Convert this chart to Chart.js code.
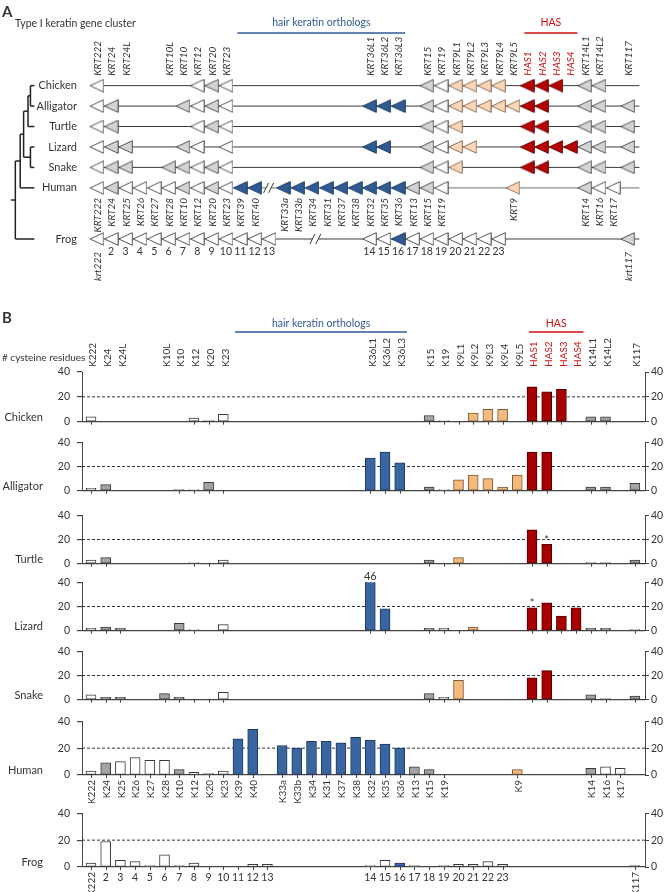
<!DOCTYPE html>
<html>
<head>
<meta charset="utf-8">
<title>Type I keratin gene cluster</title>
<script src="https://cdn.jsdelivr.net/npm/chart.js@4.4.1/dist/chart.umd.min.js"></script>
<style>
  body { margin: 0; background: #fff; }
  #page { position: relative; width: 664px; height: 892px; overflow: hidden; background: #fff; }
  #page canvas { position: absolute; left: 0; }
</style>
</head>
<body>
<div id="page">
  <canvas id="panelA" width="664" height="300" style="top:0"></canvas>
</div>
<script>
const N = null;

// --------------------
// Gene slots (38 positions along the cluster, shared by A and B)
// --------------------
const topGenes = ['K222', 'K24', 'K24L', '', '', 'K10L', 'K10', 'K12', 'K20', 'K23',
  '', '', '', '', '', '', '', '', '', 'K36L1', 'K36L2', 'K36L3', '', 'K15', 'K19',
  'K9L1', 'K9L2', 'K9L3', 'K9L4', 'K9L5', 'HAS1', 'HAS2', 'HAS3', 'HAS4', 'K14L1', 'K14L2', '', 'K117'];
const humanGenes = ['K222', 'K24', 'K25', 'K26', 'K27', 'K28', 'K10', 'K12', 'K20', 'K23', 'K39', 'K40', '',
  'K33a', 'K33b', 'K34', 'K31', 'K37', 'K38', 'K32', 'K35', 'K36', 'K13', 'K15', 'K19',
  '', '', '', '', 'K9', '', '', '', '', 'K14', 'K16', 'K17', ''];
const frogGenes = ['K222', '2', '3', '4', '5', '6', '7', '8', '9', '10', '11', '12', '13',
  '', '', '', '', '', '', '14', '15', '16', '17', '18', '19', '20', '21', '22', '23',
  '', '', '', '', '', '', '', '', 'K117'];

const species = ['Chicken', 'Alligator', 'Turtle', 'Lizard', 'Snake', 'Human', 'Frog'];

// gene kind per slot: w other, g grey, b hair keratin, t KRT9-like, r HAS, . none
const chickenKinds   = 'w......wgw.............gwtttt.rrr.gg..'.split('');
const alligatorKinds = 'wg....gwgw.........bbb.gwtttttrr..gg.g'.split('');
const turtleKinds    = 'wg.....wgw.............gwt....rr..gg.g'.split('');
const lizardKinds    = 'wgg...gw.w.........bb..gwtt...rrrrgg.g'.split('');
const snakeKinds     = 'wgg..ggwgw.............gwt....rr..gg.g'.split('');
const humanKinds     = 'wgwwwwgwgwbb.bbbbbbbbbggw....t....gww.'.split('');
const frogKinds      = 'wwwwwwwwwwwww......wwbwwwwwww........g'.split('');

// # cysteine residues per slot (null = no gene)
const chickenCys   = [4, N, N, N, N, N, N, 3, 1, 6, N, N, N, N, N, N, N, N, N, N, N, N, N,
  5, 1, 0, 7, 10, 10, N, 28, 24, 26, N, 4, 4, N, N];
const alligatorCys = [2, 5, N, N, N, N, 1, 1, 7, 0, N, N, N, N, N, N, N, N, N,
  27, 32, 23, N, 3, 1, 9, 13, 10, 3, 13, 32, 32, N, N, 3, 3, N, 6];
const turtleCys    = [3, 5, N, N, N, N, N, 1, 0, 3, N, N, N, N, N, N, N, N, N, N, N, N, N,
  3, 0, 5, N, N, N, N, 28, 16, N, N, 1, 1, N, 3];
const lizardCys    = [2, 3, 2, N, N, N, 6, 1, N, 5, N, N, N, N, N, N, N, N, N,
  46, 18, N, N, 2, 2, 0, 3, N, N, N, 19, 23, 12, 19, 2, 2, N, 1];
const snakeCys     = [4, 2, 2, N, N, 5, 2, 0, 0, 6, N, N, N, N, N, N, N, N, N, N, N, N, N,
  5, 2, 16, N, N, N, N, 18, 24, N, N, 4, 1, N, 3];
const humanCys     = [3, 9, 10, 13, 11, 11, 4, 2, 1, 3, 27, 34, N, 22, 20, 25, 25, 24, 28, 26, 23, 20,
  6, 4, 0, N, N, N, N, 4, N, N, N, N, 5, 6, 5, N];
const frogCys      = [3, 19, 5, 4, 1, 9, 1, 3, 0, 0, 0, 2, 2, N, N, N, N, N, N,
  1, 5, 3, 1, 0, 1, 2, 2, 4, 2, N, N, N, N, N, N, N, N, 1];

const notes = [
  { species: 3, slot: 19, text: '46' },
  { species: 2, slot: 31, text: '*' },
  { species: 3, slot: 30, text: '*' }
];

const groups = [
  { name: 'hair keratin orthologs', from: 10, to: 21, color: '#2f5b96' },
  { name: 'HAS', from: 30, to: 33, color: '#d01010' }
];

// phylogeny over species indexes
const tree = [[[[[0, 1], 2], [3, 4]], 5], 6];

const kindsBySpecies = [chickenKinds, alligatorKinds, turtleKinds, lizardKinds, snakeKinds, humanKinds, frogKinds];
const cysBySpecies = [chickenCys, alligatorCys, turtleCys, lizardCys, snakeCys, humanCys, frogCys];

// --------------------
// Layout / style
// --------------------
const FONT = "Lato, 'Liberation Sans', sans-serif";
const TEXT = '#333';
const RED = '#d01010';
const SLOT0 = 91, SLOT_W = 14.7;        // px of slot 0 and slot pitch
const pxToSlot = px => (px - SLOT0) / SLOT_W;
const ROW0 = 82, ROW_H = 21.6;
const rowPos = [0, 1, 2, 3, 4, 5, 7.5];  // frog row sits lower
const LINE_END = pxToSlot(647);
const breaks = { 5: [11.8, 12.15], 6: [15.03, 15.44] };
const treeNodePx = [27, 23, 20.5, 16, 12.5, 7.5];
const TREE_ROOT_PX = 3;

const FILL_A = { w: '#ffffff', g: '#d4d4d4', b: '#2f5a92', t: '#fcd6b5', r: '#b80000' };
const EDGE_A = { w: '#555', g: '#555', b: '#1f3d66', t: '#8a7060', r: '#6a0000' };
const FILL_B = { w: '#ffffff', g: '#a3a3a3', b: '#3a65a0', t: '#f4b97b', r: '#a80000' };
const EDGE_B = { w: '#3a3a3a', g: '#3a3a3a', b: '#1d3a60', t: '#7a5a3a', r: '#4a0000' };

Chart.defaults.font.family = FONT;

function triangle(kind) {
  const c = document.createElement('canvas');
  c.width = 15; c.height = 14;
  const g = c.getContext('2d');
  g.beginPath();
  g.moveTo(0.8, 7);
  g.lineTo(14.3, 0.7);
  g.lineTo(14.3, 13.3);
  g.closePath();
  g.fillStyle = FILL_A[kind];
  g.fill();
  g.strokeStyle = EDGE_A[kind];
  g.lineWidth = 1;
  g.stroke();
  return c;
}

function vertText(ctx, text, x, y, align, font, color) {
  ctx.save();
  ctx.translate(x, y);
  ctx.rotate(-Math.PI / 2);
  ctx.font = font;
  ctx.fillStyle = color;
  ctx.textAlign = align;
  ctx.textBaseline = 'middle';
  ctx.fillText(text, 0, 0);
  ctx.restore();
}

function drawGroups(ctx, xScale, lineY, textY) {
  groups.forEach(g => {
    const x1 = xScale.getPixelForValue(g.from - 0.2);
    const x2 = xScale.getPixelForValue(g.to + 0.5);
    ctx.strokeStyle = g.color;
    ctx.lineWidth = 1.5;
    ctx.beginPath();
    ctx.moveTo(x1, lineY);
    ctx.lineTo(x2, lineY);
    ctx.stroke();
    ctx.fillStyle = g.color;
    ctx.font = `10.5px ${FONT}`;
    ctx.textAlign = 'center';
    ctx.textBaseline = 'middle';
    ctx.fillText(g.name, (x1 + x2) / 2, textY);
  });
}

const geneNameA = g => g.startsWith('K') ? 'KRT' + g.slice(1) : g;

// --------------------
// Panel A: gene cluster
// --------------------
function treeSegments(node, segs) {
  if (typeof node === 'number') return { y: rowPos[node], h: 0 };
  const kids = node.map(n => treeSegments(n, segs));
  const h = 1 + Math.max(...kids.map(k => k.h));
  const x = pxToSlot(treeNodePx[h]);
  kids.forEach(k => segs.push([{ x, y: k.y }, { x: pxToSlot(treeNodePx[k.h]), y: k.y }]));
  segs.push([{ x, y: kids[0].y }, { x, y: kids[kids.length - 1].y }]);
  return { y: (kids[0].y + kids[kids.length - 1].y) / 2, h };
}

const treeSegs = [];
const root = treeSegments(tree, treeSegs);
treeSegs.push([{ x: pxToSlot(TREE_ROOT_PX), y: root.y }, { x: pxToSlot(treeNodePx[root.h]), y: root.y }]);

const datasetsA = [];
treeSegs.forEach(seg => datasetsA.push({
  data: seg, showLine: true, pointRadius: 0, borderColor: '#222', borderWidth: 1.5, order: 2
}));

kindsBySpecies.forEach((ks, s) => {
  const first = ks.findIndex(k => k !== '.');
  const br = breaks[s];
  const parts = br ? [[first, br[0]], [br[1], LINE_END]] : [[first, LINE_END]];
  parts.forEach(p => datasetsA.push({
    data: [{ x: p[0], y: rowPos[s] }, { x: p[1], y: rowPos[s] }],
    showLine: true, pointRadius: 0,
    borderColor: s === 5 ? '#8c8c8c' : '#3a3a3a', borderWidth: s === 5 ? 1.3 : 1, order: 2
  }));
});

['w', 'g', 't', 'b', 'r'].forEach(kind => {
  const data = [];
  kindsBySpecies.forEach((ks, s) => ks.forEach((k, i) => {
    if (k === kind) data.push({ x: i, y: rowPos[s] });
  }));
  datasetsA.push({ data, pointStyle: triangle(kind), pointRadius: 7, showLine: false, order: 0 });
});

const panelALabels = {
  id: 'panelALabels',
  afterDatasetsDraw(chart) {
    const { ctx, scales: { x, y } } = chart;
    ctx.save();
    ctx.fillStyle = TEXT;
    ctx.textBaseline = 'middle';
    ctx.textAlign = 'left';
    ctx.font = `bold 15px ${FONT}`;
    ctx.fillText('A', 2, 12);
    ctx.font = `10.5px ${FONT}`;
    ctx.fillText('Type I keratin gene cluster', 15, 24);
    drawGroups(ctx, x, 33, 23);

    ctx.fillStyle = TEXT;
    ctx.font = `11px ${FONT}`;
    ctx.textAlign = 'right';
    ctx.textBaseline = 'middle';
    species.forEach((s, i) => ctx.fillText(s, 77, y.getPixelForValue(rowPos[i])));

    const topY = y.getPixelForValue(rowPos[0]) - 10;
    topGenes.forEach((g, i) => {
      if (!g) return;
      vertText(ctx, geneNameA(g), x.getPixelForValue(i) + 1, topY, 'left',
        `italic 10px ${FONT}`, g.startsWith('HAS') ? RED : TEXT);
    });
    const humanY = y.getPixelForValue(rowPos[5]) + 10;
    humanGenes.forEach((g, i) => {
      if (!g) return;
      vertText(ctx, geneNameA(g), x.getPixelForValue(i) + 1, humanY, 'right', `italic 10px ${FONT}`, TEXT);
    });
    const frogY = y.getPixelForValue(rowPos[6]);
    frogGenes.forEach((g, i) => {
      if (!g) return;
      if (/^\d/.test(g)) {
        ctx.font = `10.5px ${FONT}`;
        ctx.fillStyle = TEXT;
        ctx.textAlign = 'center';
        ctx.textBaseline = 'middle';
        ctx.fillText(g, x.getPixelForValue(i), frogY + 13);
      } else {
        vertText(ctx, 'krt' + g.slice(1), x.getPixelForValue(i) + 1, frogY + 13, 'right', `italic 10px ${FONT}`, TEXT);
      }
    });

    // break marks on the human and frog lines
    ctx.strokeStyle = '#333';
    ctx.lineWidth = 1;
    Object.keys(breaks).forEach(s => {
      const py = y.getPixelForValue(rowPos[s]);
      breaks[s].forEach(b => {
        const px = x.getPixelForValue(b);
        ctx.beginPath();
        ctx.moveTo(px - 2.5, py + 5);
        ctx.lineTo(px + 2.5, py - 5);
        ctx.stroke();
      });
    });
    ctx.restore();
  }
};

const canvasA = document.getElementById('panelA');
new Chart(canvasA, {
  type: 'scatter',
  data: { datasets: datasetsA },
  options: {
    responsive: false,
    animation: false,
    events: [],
    devicePixelRatio: 1,
    layout: { padding: 0 },
    plugins: { legend: { display: false }, tooltip: { enabled: false } },
    scales: {
      x: { type: 'linear', display: false, min: pxToSlot(0), max: pxToSlot(664) },
      y: { type: 'linear', display: false, reverse: true,
           min: -ROW0 / ROW_H, max: (canvasA.height - ROW0) / ROW_H }
    }
  },
  plugins: [panelALabels]
});

// --------------------
// Panel B: cysteine counts
// --------------------
const panelBTop = [372, 441, 514, 581, 650, 720, 812]; // y of the 40 line
const PLOT_H = 55;
const AXIS_L = 82, AXIS_R = 645;

const barExtras = {
  id: 'barExtras',
  beforeDatasetsDraw(chart) {
    const { ctx, chartArea, scales: { y } } = chart;
    const y20 = y.getPixelForValue(20);
    ctx.save();
    ctx.strokeStyle = '#333';
    ctx.lineWidth = 1;
    ctx.setLineDash([3, 2]);
    ctx.beginPath();
    ctx.moveTo(chartArea.left, y20);
    ctx.lineTo(chartArea.right, y20);
    ctx.stroke();
    ctx.restore();
  },
  afterDatasetsDraw(chart, args, opts) {
    const s = opts.species;
    const { ctx, scales: { x, y } } = chart;
    const y0 = y.getPixelForValue(0);
    const y40 = y.getPixelForValue(40);
    const cys = cysBySpecies[s];
    ctx.save();
    // small ticks under every gene
    ctx.strokeStyle = '#444';
    ctx.lineWidth = 1;
    cys.forEach((v, i) => {
      if (v === null) return;
      const px = Math.round(x.getPixelForValue(i)) + 0.5;
      ctx.beginPath();
      ctx.moveTo(px, y0);
      ctx.lineTo(px, y0 + 3);
      ctx.stroke();
    });
    // species name
    ctx.fillStyle = TEXT;
    ctx.font = `11px ${FONT}`;
    ctx.textAlign = 'right';
    ctx.textBaseline = 'middle';
    ctx.fillText(species[s], 43, y.getPixelForValue(3.5));
    // notes
    notes.filter(n => n.species === s).forEach(n => {
      const top = y.getPixelForValue(Math.min(cys[n.slot], 40));
      ctx.font = `11px ${FONT}`;
      ctx.textAlign = 'center';
      ctx.fillStyle = TEXT;
      ctx.fillText(n.text, x.getPixelForValue(n.slot), top - (n.text === '*' ? 4 : 6));
    });
    if (s === 0) {
      ctx.textAlign = 'left';
      ctx.font = `bold 15px ${FONT}`;
      ctx.fillText('B', 2, y40 - 54);
      ctx.font = `10px ${FONT}`;
      ctx.fillText('# cysteine residues', 2, y40 - 14);
      drawGroups(ctx, x, y40 - 40, y40 - 48);
      topGenes.forEach((g, i) => {
        if (!g) return;
        vertText(ctx, g, x.getPixelForValue(i) + 2, y40 - 5, 'left', `10px ${FONT}`, g.startsWith('HAS') ? RED : TEXT);
      });
    }
    if (s === 5) {
      humanGenes.forEach((g, i) => {
        if (!g) return;
        vertText(ctx, g, x.getPixelForValue(i) + 1, y0 + 5, 'right', `10px ${FONT}`, TEXT);
      });
    }
    if (s === 6) {
      frogGenes.forEach((g, i) => {
        if (!g) return;
        if (/^\d/.test(g)) {
          ctx.font = `10.5px ${FONT}`;
          ctx.fillStyle = TEXT;
          ctx.textAlign = 'center';
          ctx.textBaseline = 'middle';
          ctx.fillText(g, x.getPixelForValue(i), y0 + 11);
        } else {
          vertText(ctx, g, x.getPixelForValue(i) + 1, y0 + 5, 'right', `10px ${FONT}`, TEXT);
        }
      });
    }
    ctx.restore();
  }
};

const page = document.getElementById('page');
species.forEach((name, s) => {
  const padTop = s === 0 ? 62 : 12;
  const padBottom = s === 5 ? 30 : (s === 6 ? 26 : 8);
  const canvas = document.createElement('canvas');
  canvas.width = 664;
  canvas.height = padTop + PLOT_H + padBottom;
  canvas.style.top = (panelBTop[s] - padTop) + 'px';
  page.appendChild(canvas);

  const kinds = kindsBySpecies[s];
  const tickFont = { family: FONT, size: 10.5 };
  new Chart(canvas, {
    type: 'bar',
    data: {
      datasets: [{
        data: cysBySpecies[s].map((v, i) => ({ x: i, y: v })),
        backgroundColor: kinds.map(k => FILL_B[k] || '#fff'),
        borderColor: kinds.map(k => EDGE_B[k] || '#333'),
        borderWidth: 1,
        borderSkipped: false,
        barThickness: 10
      }]
    },
    options: {
      responsive: false,
      animation: false,
      events: [],
      devicePixelRatio: 1,
      layout: { padding: { top: padTop, bottom: padBottom, left: 0, right: 0 } },
      plugins: { legend: { display: false }, tooltip: { enabled: false }, barExtras: { species: s } },
      scales: {
        x: { type: 'linear', display: false, offset: false,
             min: pxToSlot(AXIS_L), max: pxToSlot(AXIS_R) },
        y: {
          position: 'left', min: 0, max: 40,
          ticks: { stepSize: 20, font: tickFont, color: TEXT, padding: 7 },
          grid: { color: c => (c.tick && c.tick.value === 0) ? '#444' : 'rgba(0,0,0,0)',
                  tickColor: '#444', tickLength: 5, lineWidth: 1.2 },
          border: { color: '#444', width: 1 },
          afterFit(scale) { scale.width = AXIS_L; }
        },
        y2: {
          position: 'right', min: 0, max: 40,
          ticks: { stepSize: 20, font: tickFont, color: TEXT, padding: 2 },
          grid: { drawOnChartArea: false, tickColor: '#444', tickLength: 4 },
          border: { color: '#444', width: 1 },
          afterFit(scale) { scale.width = 664 - AXIS_R; }
        }
      }
    },
    plugins: [barExtras]
  });
});
</script>
</body>
</html>
